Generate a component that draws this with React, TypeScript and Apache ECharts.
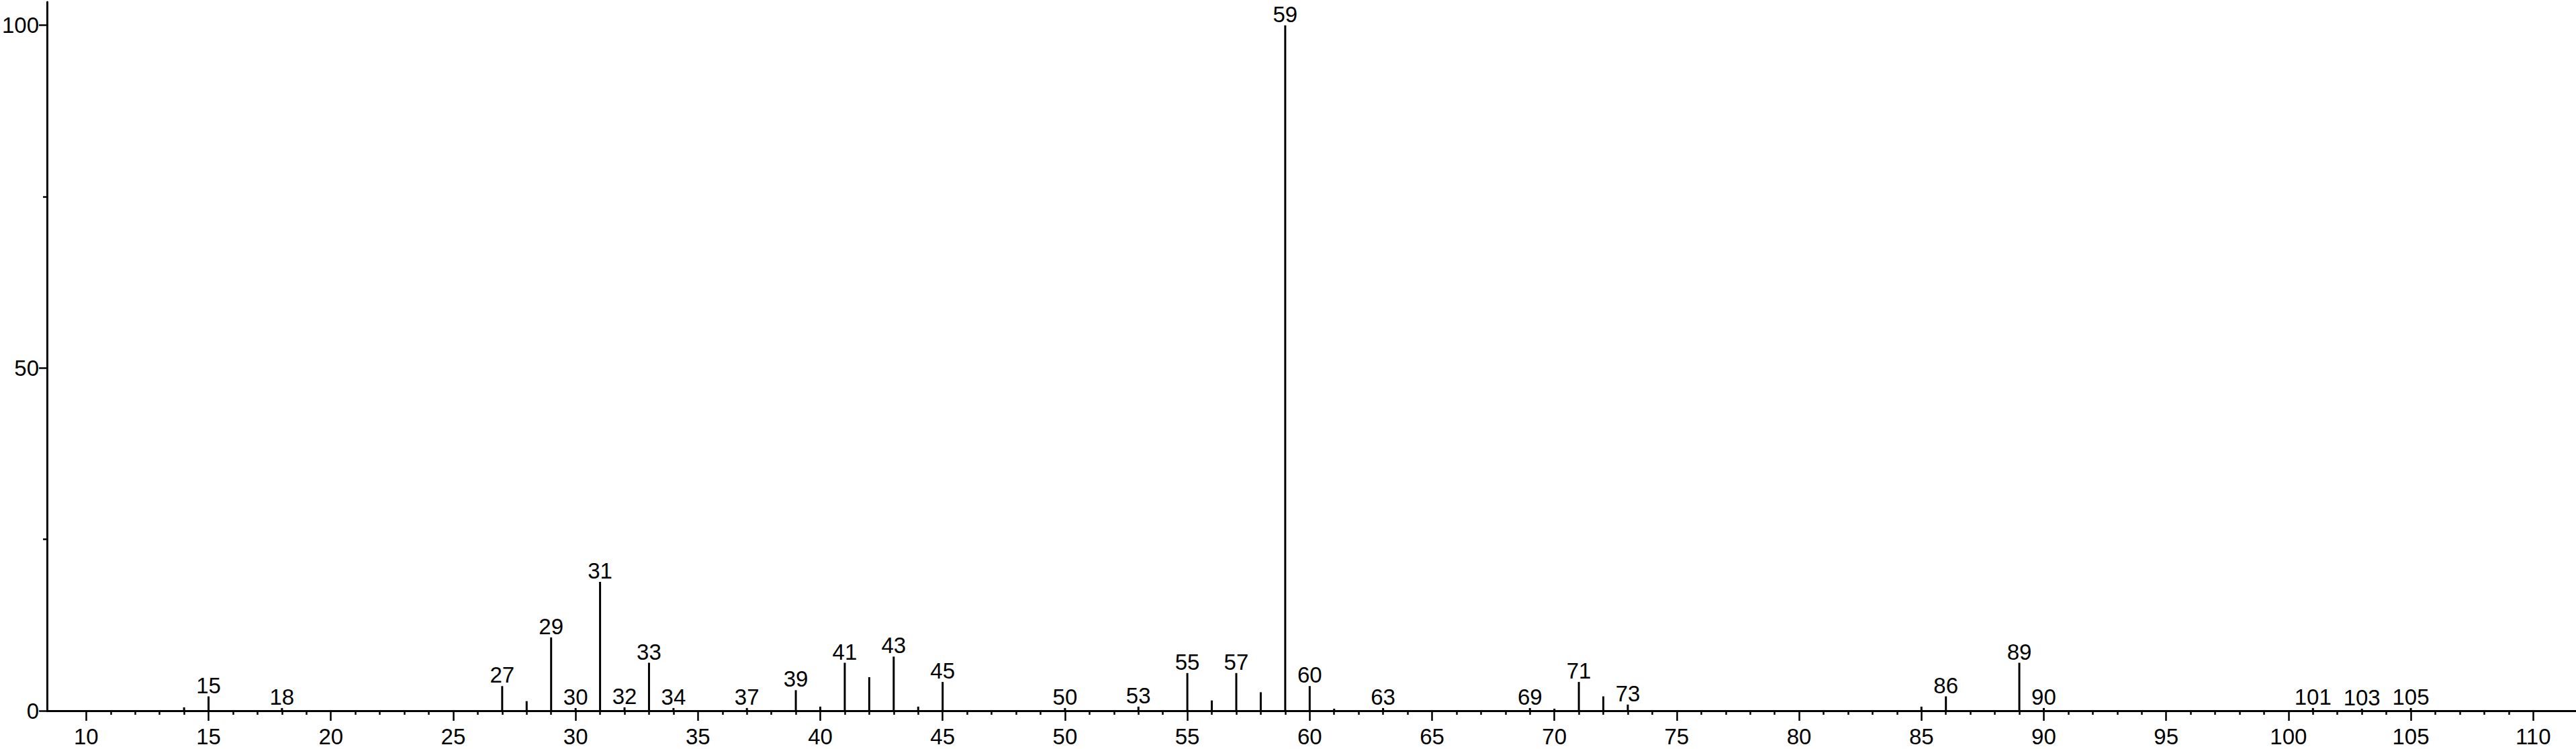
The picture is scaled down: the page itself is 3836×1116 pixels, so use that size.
import React, { useEffect, useRef } from "react";
import * as echarts from "echarts";

// m/z values and relative intensities (%)
const mz = [14, 15, 18, 27, 28, 29, 30, 31, 32, 33, 34, 37, 39, 40, 41, 42, 43, 44, 45, 50, 53, 55, 56, 57, 58, 59, 60, 61, 63, 69, 70, 71, 72, 73, 85, 86, 89, 90, 101, 103, 105];
const intensity = [0.5, 2.1, 0.4, 3.6, 1.4, 10.7, 0.4, 18.8, 0.5, 7.0, 0.4, 0.4, 3.0, 0.6, 7.0, 4.9, 7.9, 0.6, 4.2, 0.4, 0.6, 5.5, 1.5, 5.5, 2.7, 100, 3.6, 0.3, 0.4, 0.4, 0.3, 4.2, 2.1, 0.9, 0.6, 2.1, 7.0, 0.4, 0.4, 0.3, 0.4];
const labeledPeaks = [15, 18, 27, 29, 30, 31, 32, 33, 34, 37, 39, 41, 43, 45, 50, 53, 55, 57, 59, 60, 63, 69, 71, 73, 86, 89, 90, 101, 103, 105];

const xMajorTicks = [10, 15, 20, 25, 30, 35, 40, 45, 50, 55, 60, 65, 70, 75, 80, 85, 90, 95, 100, 105, 110];
const yMajorTicks = [0, 50, 100];
const yMinorTicks = [25, 75];

const X_MIN = 8.4;
const X_MAX = 111.75;
const Y_MAX = 103.4;

const FONT = "'Liberation Sans', Arial, Helvetica, sans-serif";

export default function App() {
  const ref = useRef<HTMLDivElement>(null);
  useEffect(() => {
    if (!ref.current) return;
    const chart = echarts.init(ref.current, undefined, { renderer: "svg" });
    const xMinorTicks: number[] = [];
    for (let v = xMajorTicks[0]; v <= xMajorTicks[xMajorTicks.length - 1]; v++) {
      if (!xMajorTicks.includes(v)) xMinorTicks.push(v);
    }
    const data = mz.map((x, i) => ({
      value: [x, intensity[i]],
      label: { show: labeledPeaks.includes(x) },
    }));
    const tickStyle = { color: "#000", width: 2.5 };
    chart.setOption({
      animation: false,
      backgroundColor: "#fff",
      grid: { left: 69, right: 0, top: 3, bottom: 57, containLabel: false },
      xAxis: [
        {
          type: "value",
          position: "bottom",
          min: X_MIN,
          max: X_MAX,
          axisLine: { show: true, onZero: false, lineStyle: { color: "#000", width: 3 } },
          axisTick: { show: true, customValues: xMajorTicks, length: 15, lineStyle: tickStyle },
          axisLabel: {
            show: true,
            customValues: xMajorTicks,
            margin: 22,
            fontSize: 33,
            color: "#000",
            fontFamily: FONT,
          },
          splitLine: { show: false },
        },
        {
          type: "value",
          position: "bottom",
          min: X_MIN,
          max: X_MAX,
          axisLine: { show: false, onZero: false },
          axisTick: { show: true, customValues: xMinorTicks, length: 6, lineStyle: tickStyle },
          axisLabel: { show: false },
          splitLine: { show: false },
        },
      ],
      yAxis: [
        {
          type: "value",
          position: "left",
          min: 0,
          max: Y_MAX,
          axisLine: { show: true, onZero: false, lineStyle: { color: "#000", width: 3 } },
          axisTick: { show: true, customValues: yMajorTicks, length: 12, lineStyle: tickStyle },
          axisLabel: {
            show: true,
            customValues: yMajorTicks,
            margin: 12,
            fontSize: 33,
            color: "#000",
            fontFamily: FONT,
          },
          splitLine: { show: false },
        },
        {
          type: "value",
          position: "left",
          min: 0,
          max: Y_MAX,
          axisLine: { show: false, onZero: false },
          axisTick: { show: true, customValues: yMinorTicks, length: 6, lineStyle: tickStyle },
          axisLabel: { show: false },
          splitLine: { show: false },
        },
      ],
      series: [
        {
          type: "bar",
          xAxisIndex: 0,
          yAxisIndex: 0,
          barWidth: 3,
          itemStyle: { color: "#000" },
          label: {
            show: false,
            position: "top",
            distance: 0,
            fontSize: 33,
            color: "#000",
            fontFamily: FONT,
            formatter: (p: any) => String(p.value[0]),
          },
          data,
        },
      ],
    });
    return () => chart.dispose();
  }, []);
  return (
    <div
      ref={ref}
      style={{ position: "absolute", left: 0, top: 0, width: 3836, height: 1116 }}
    />
  );
}
